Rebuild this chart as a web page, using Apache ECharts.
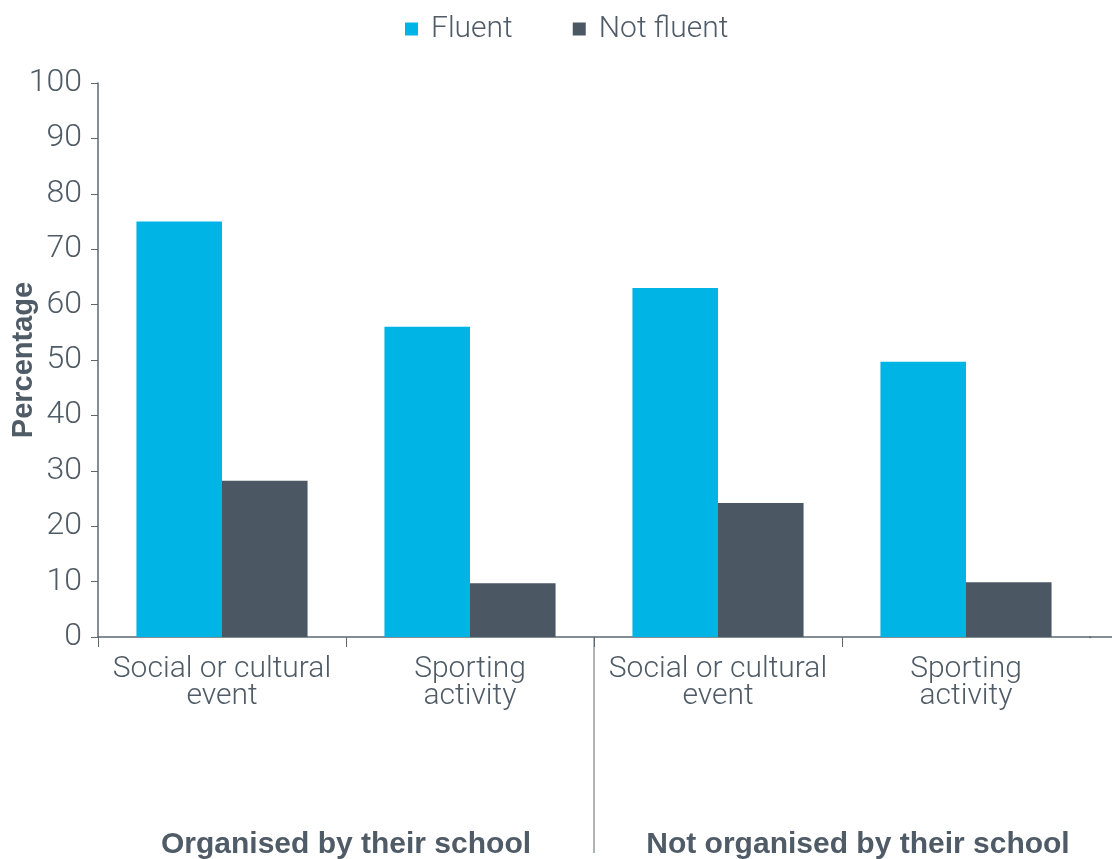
<!DOCTYPE html>
<html>
<head>
<meta charset="utf-8">
<script src="https://cdn.jsdelivr.net/npm/echarts@6/dist/echarts.min.js"></script>
<style>
html,body{margin:0;padding:0;background:#fff;}
#c{width:1112px;height:859px;}
</style>
</head>
<body>
<div id="c"></div>
<script>
var categories = ["Social or cultural\nevent", "Sporting\nactivity", "Social or cultural\nevent", "Sporting\nactivity"];
var groups = ["Organised by their school", "Not organised by their school"];
var seriesNames = ["Fluent", "Not fluent"];
var fluent = [75, 56, 63, 49.7];
var notFluent = [28.2, 9.7, 24.2, 9.9];
var yTicks = [0, 10, 20, 30, 40, 50, 60, 70, 80, 90, 100];

var textColor = '#4f5b66';
var axisColor = '#5d6872';
var font = 'Roboto';

var chart = echarts.init(document.getElementById('c'), null, {renderer: 'canvas'});
var option = {
  animation: false,
  backgroundColor: '#ffffff',
  color: ['#00b4e6', '#4b5763'],
  legend: {
    data: seriesNames,
    top: 9,
    left: 400,
    icon: 'rect',
    itemWidth: 13,
    itemHeight: 13,
    itemGap: 60,
    textStyle: {fontFamily: font, fontWeight: 300, fontSize: 30, color: textColor, padding: [0, 0, 0, 8]}
  },
  grid: {left: 98, right: 22, top: 83, bottom: 222, containLabel: false, outerBoundsMode: 'none'},
  xAxis: {
    type: 'category',
    data: categories,
    axisLine: {show: true, lineStyle: {color: axisColor, width: 1.5}},
    axisTick: {show: true, length: 10, lineStyle: {color: axisColor}},
    axisLabel: {interval: 0, margin: 19, fontFamily: font, fontWeight: 300, fontSize: 30, lineHeight: 27, color: textColor}
  },
  yAxis: {
    type: 'value',
    min: yTicks[0],
    max: yTicks[yTicks.length - 1],
    interval: 10,
    name: 'Percentage',
    nameLocation: 'middle',
    nameGap: 60,
    nameRotate: 90,
    nameMoveOverlap: false,
    nameTextStyle: {fontFamily: 'Liberation Sans', fontWeight: 'bold', fontSize: 29, color: textColor},
    splitLine: {show: false},
    axisLine: {show: true, lineStyle: {color: axisColor, width: 1.5}},
    axisTick: {show: true, length: 7, lineStyle: {color: axisColor}},
    axisLabel: {margin: 16, fontFamily: font, fontWeight: 300, fontSize: 32, color: textColor}
  },
  series: [
    {name: seriesNames[0], type: 'bar', data: fluent, barGap: '0%', barCategoryGap: '31%'},
    {name: seriesNames[1], type: 'bar', data: notFluent, barGap: '0%', barCategoryGap: '31%'}
  ]
};
chart.setOption(option);

// decorations computed from the axis scale
var c0 = chart.convertToPixel({xAxisIndex: 0}, 0);
var c1 = chart.convertToPixel({xAxisIndex: 0}, 1);
var c2 = chart.convertToPixel({xAxisIndex: 0}, 2);
var c3 = chart.convertToPixel({xAxisIndex: 0}, 3);
var y0 = chart.convertToPixel({yAxisIndex: 0}, 0);
var band = c1 - c0;
var sepX = (c1 + c2) / 2;
var rightEdge = c3 + band / 2;
chart.setOption({
  graphic: [
    {type: 'rect', z: 1000, shape: {x: rightEdge - 3, y: y0 + 1.2, width: 6, height: 13}, style: {fill: '#ffffff'}},
    {type: 'line', z: 1001, shape: {x1: rightEdge - 1, y1: y0, x2: 1112, y2: y0}, style: {stroke: axisColor, lineWidth: 1.5}},
    {type: 'line', z: 1001, shape: {x1: sepX, y1: y0, x2: sepX, y2: y0 + 216}, style: {stroke: axisColor, lineWidth: 1}},
    {type: 'text', x: (c0 + c1) / 2, y: y0 + 208, style: {text: groups[0], fontFamily: 'Liberation Sans', fontWeight: 'bold', fontSize: 30, fill: textColor, align: 'center', verticalAlign: 'middle'}},
    {type: 'text', x: (c2 + c3) / 2 + 16, y: y0 + 208, style: {text: groups[1], fontFamily: 'Liberation Sans', fontWeight: 'bold', fontSize: 30, fill: textColor, align: 'center', verticalAlign: 'middle'}}
  ]
});
</script>
</body>
</html>
